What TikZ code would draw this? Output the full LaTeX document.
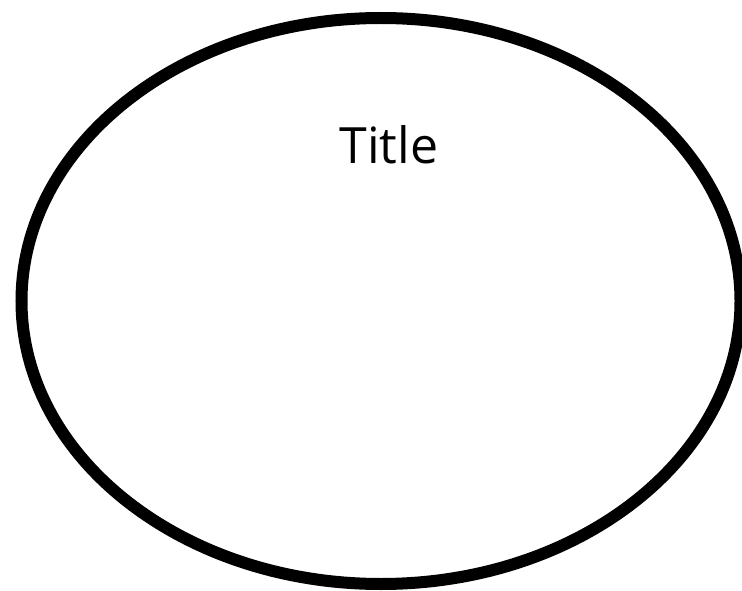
\documentclass[tikz,border=0pt]{standalone}
\usepackage{fontspec}
\setmainfont{Open Sans}
\usetikzlibrary{shapes.geometric}
\begin{document}
\begin{tikzpicture}[x=1pt,y=-1pt,
  ring/.style={draw=black,line width=12pt,ellipse,inner sep=0pt,minimum width=719pt,minimum height=566pt},
  titletext/.style={font=\fontsize{50}{60}\selectfont,anchor=base,inner sep=0pt}]
\useasboundingbox (0,0) rectangle (742,591);
\clip (0,0) rectangle (742,591);
\node[ring] (frame) at (381,301) {};
\node[titletext] (title) at (389,164) {Title};
\end{tikzpicture}
\end{document}
